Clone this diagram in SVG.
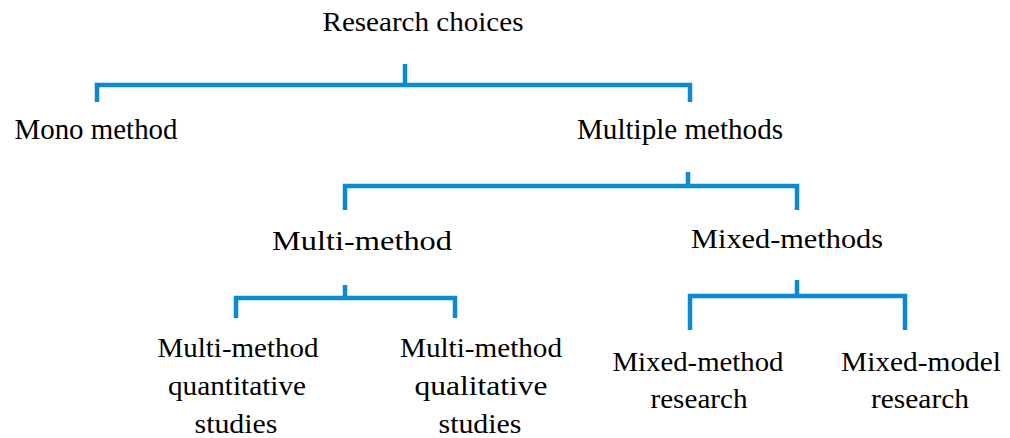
<svg xmlns="http://www.w3.org/2000/svg" width="1010" height="438" viewBox="0 0 1010 438">
<style>
  text { font-family: 'Liberation Serif', 'Times New Roman', Times, serif; fill: #000; text-anchor: middle; }
  .c { fill: none; stroke: #0a8bd1; stroke-width: 4.5; stroke-linejoin: miter; stroke-linecap: butt; }
</style>
<rect width="1010" height="438" fill="#fff"/>
<g id="connectors">
  <path class="c" d="M97,102 V85 H690 V102 M405,85 V64"/>
  <path class="c" d="M345,210 V186 H797 V210 M688,186 V172"/>
  <path class="c" d="M236,318 V298 H455 V318 M345,298 V285"/>
  <path class="c" d="M690,330 V296 H905 V330 M797,296 V280"/>
</g>
<g id="research-choices"><text x="423" y="31" font-size="27" textLength="201" lengthAdjust="spacingAndGlyphs">Research choices</text></g>
<g id="mono-method"><text x="96" y="139" font-size="29" textLength="163" lengthAdjust="spacingAndGlyphs">Mono method</text></g>
<g id="multiple-methods"><text x="680" y="139" font-size="29" textLength="206" lengthAdjust="spacingAndGlyphs">Multiple methods</text></g>
<g id="multi-method"><text x="362" y="250" font-size="28" textLength="180" lengthAdjust="spacingAndGlyphs">Multi-method</text></g>
<g id="mixed-methods"><text x="787" y="248" font-size="27" textLength="192" lengthAdjust="spacingAndGlyphs">Mixed-methods</text></g>
<g id="multi-method-quantitative">
  <text x="238" y="357" font-size="27" textLength="161" lengthAdjust="spacingAndGlyphs">Multi-method</text>
  <text x="237" y="395" font-size="27" textLength="138" lengthAdjust="spacingAndGlyphs">quantitative</text>
  <text x="236" y="433" font-size="27" textLength="83" lengthAdjust="spacingAndGlyphs">studies</text>
</g>
<g id="multi-method-qualitative">
  <text x="481" y="357" font-size="27" textLength="162" lengthAdjust="spacingAndGlyphs">Multi-method</text>
  <text x="481" y="395" font-size="27" textLength="133" lengthAdjust="spacingAndGlyphs">qualitative</text>
  <text x="480" y="433" font-size="27" textLength="83" lengthAdjust="spacingAndGlyphs">studies</text>
</g>
<g id="mixed-method-research">
  <text x="698" y="371" font-size="27.5" textLength="171" lengthAdjust="spacingAndGlyphs">Mixed-method</text>
  <text x="699" y="408" font-size="27.5" textLength="97" lengthAdjust="spacingAndGlyphs">research</text>
</g>
<g id="mixed-model-research">
  <text x="921" y="371" font-size="27.5" textLength="160" lengthAdjust="spacingAndGlyphs">Mixed-model</text>
  <text x="920" y="408" font-size="27.5" textLength="98" lengthAdjust="spacingAndGlyphs">research</text>
</g>
</svg>
